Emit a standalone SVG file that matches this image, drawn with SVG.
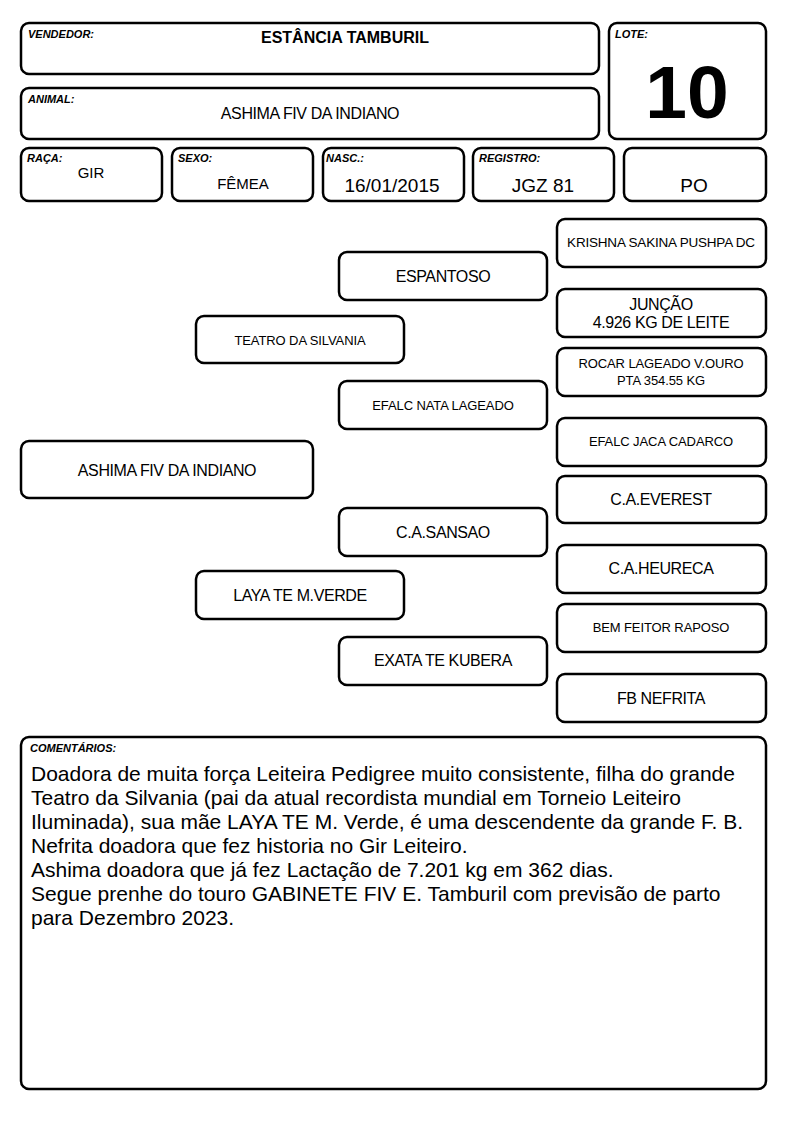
<svg xmlns="http://www.w3.org/2000/svg" width="794" height="1123" viewBox="0 0 794 1123">
<style>
rect.b{fill:#fff;stroke:#000;stroke-width:2.5}
text{font-family:"Liberation Sans",Arial,sans-serif;fill:#000}
.lbl{font-size:11px;font-weight:bold;font-style:italic}
.c{text-anchor:middle}
.t16{font-size:16px;letter-spacing:-0.4px}
.t13{font-size:13px;letter-spacing:-0.1px}
.t17{font-size:19px}
.cm{font-size:21px}
</style>
<rect width="794" height="1123" fill="#fff"/>
<g id="vendedor"><rect class="b" x="21" y="23" width="578" height="51" rx="8"/><text class="lbl" x="28" y="38">VENDEDOR:</text><text class="c" x="345" y="43" font-size="16" font-weight="bold">ESTÂNCIA TAMBURIL</text></g>
<g id="animal"><rect class="b" x="21" y="88" width="578" height="51" rx="8"/><text class="lbl" x="28" y="103">ANIMAL:</text><text class="c t16" x="310" y="119">ASHIMA FIV DA INDIANO</text></g>
<g id="lote"><rect class="b" x="609" y="23" width="157" height="116" rx="8"/><text class="lbl" x="615" y="38">LOTE:</text><text class="c" x="687" y="118" font-size="75" font-weight="bold">10</text></g>
<g id="raca"><rect class="b" x="21" y="148" width="141" height="53" rx="8"/><text class="lbl" x="27" y="162">RAÇA:</text><text class="c" x="91" y="178" font-size="15">GIR</text></g>
<g id="sexo"><rect class="b" x="172" y="148" width="141" height="53" rx="8"/><text class="lbl" x="178" y="162">SEXO:</text><text class="c" x="243" y="189" font-size="15">FÊMEA</text></g>
<g id="nasc"><rect class="b" x="323" y="148" width="141" height="53" rx="8"/><text class="lbl" x="326" y="162">NASC.:</text><text class="c t17" x="392" y="192">16/01/2015</text></g>
<g id="registro"><rect class="b" x="473" y="148" width="141" height="53" rx="8"/><text class="lbl" x="479" y="162">REGISTRO:</text><text class="c t17" x="543" y="192">JGZ 81</text></g>
<g id="po"><rect class="b" x="624" y="148" width="142" height="53" rx="8"/><text class="c t17" x="694" y="192">PO</text></g>
<g id="connectors"></g>
<g id="krishna"><rect class="b" x="557" y="219" width="209" height="48" rx="8"/><text class="c" x="661" y="247" font-size="13.5" letter-spacing="-0.2">KRISHNA SAKINA PUSHPA DC</text></g>
<g id="espantoso"><rect class="b" x="339" y="252" width="208" height="48" rx="8"/><text class="c t16" x="443" y="282">ESPANTOSO</text></g>
<g id="juncao"><rect class="b" x="557" y="289" width="209" height="48" rx="8"/><text class="c t16" x="661" y="310">JUNÇÃO</text><text class="c t16" x="661" y="328">4.926 KG DE LEITE</text></g>
<g id="teatro"><rect class="b" x="196" y="316" width="208" height="47" rx="8"/><text class="c t13" x="300" y="345">TEATRO DA SILVANIA</text></g>
<g id="rocar"><rect class="b" x="557" y="348" width="209" height="48" rx="8"/><text class="c t13" x="661" y="368">ROCAR LAGEADO V.OURO</text><text class="c t13" x="661" y="385">PTA 354.55 KG</text></g>
<g id="efalc-nata"><rect class="b" x="339" y="381" width="208" height="48" rx="8"/><text class="c t13" x="443" y="410">EFALC NATA LAGEADO</text></g>
<g id="efalc-jaca"><rect class="b" x="557" y="418" width="209" height="48" rx="8"/><text class="c t13" x="661" y="446">EFALC JACA CADARCO</text></g>
<g id="ashima"><rect class="b" x="21" y="441" width="292" height="57" rx="8"/><text class="c t16" x="167" y="476">ASHIMA FIV DA INDIANO</text></g>
<g id="everest"><rect class="b" x="557" y="476" width="209" height="47" rx="8"/><text class="c t16" x="661" y="505">C.A.EVEREST</text></g>
<g id="sansao"><rect class="b" x="339" y="508" width="208" height="48" rx="8"/><text class="c t16" x="443" y="538">C.A.SANSAO</text></g>
<g id="heureca"><rect class="b" x="557" y="545" width="209" height="48" rx="8"/><text class="c t16" x="661" y="574">C.A.HEURECA</text></g>
<g id="laya"><rect class="b" x="196" y="571" width="208" height="48" rx="8"/><text class="c t16" x="300" y="601">LAYA TE M.VERDE</text></g>
<g id="bem-feitor"><rect class="b" x="557" y="604" width="209" height="48" rx="8"/><text class="c t13" x="661" y="632">BEM FEITOR RAPOSO</text></g>
<g id="exata"><rect class="b" x="339" y="637" width="208" height="48" rx="8"/><text class="c t16" x="443" y="666">EXATA TE KUBERA</text></g>
<g id="fb-nefrita"><rect class="b" x="557" y="674" width="209" height="48" rx="8"/><text class="c t16" x="661" y="704">FB NEFRITA</text></g>
<g id="comentarios"><rect class="b" x="21" y="737" width="745" height="352" rx="8"/><text class="lbl" x="30" y="752">COMENTÁRIOS:</text>
<text class="cm" x="31" y="781">Doadora de muita força Leiteira Pedigree muito consistente, filha do grande</text>
<text class="cm" x="31" y="805">Teatro da Silvania (pai da atual recordista mundial em Torneio Leiteiro</text>
<text class="cm" x="31" y="829">Iluminada), sua mãe LAYA TE M. Verde, é uma descendente da grande F. B.</text>
<text class="cm" x="31" y="853">Nefrita doadora que fez historia no Gir Leiteiro.</text>
<text class="cm" x="31" y="877">Ashima doadora que já fez Lactação de 7.201 kg em 362 dias.</text>
<text class="cm" x="31" y="901">Segue prenhe do touro GABINETE FIV E. Tamburil com previsão de parto</text>
<text class="cm" x="31" y="925">para Dezembro 2023.</text>
</g>
</svg>
